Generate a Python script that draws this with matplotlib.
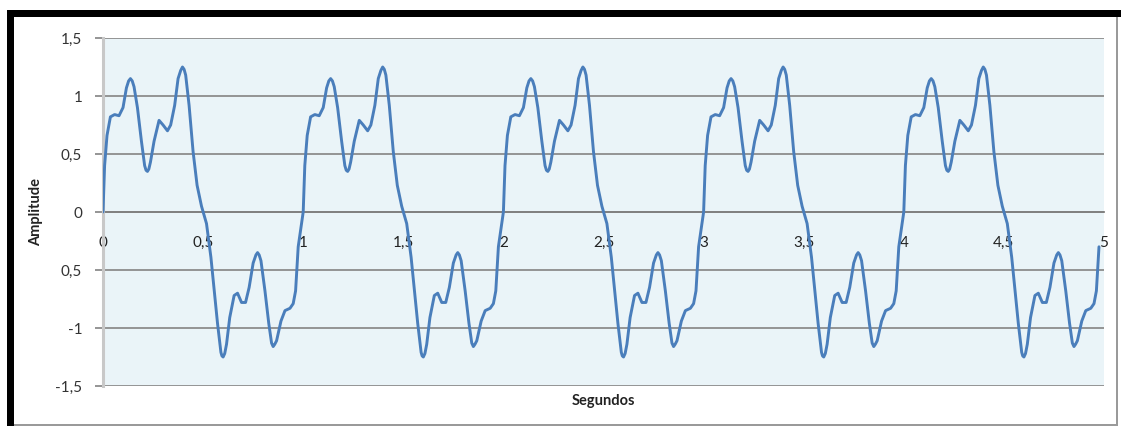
import numpy as np
import matplotlib.pyplot as plt
from matplotlib.patches import Rectangle

plt.rcParams['font.family'] = ['Lato', 'DejaVu Sans']

# one period of the signal (seconds, amplitude)
t_periodo = [0.000, 0.008, 0.020, 0.037, 0.058, 0.080, 0.100, 0.117, 0.128, 0.137,
             0.146, 0.155, 0.172, 0.192, 0.208, 0.215, 0.222, 0.229, 0.237, 0.255,
             0.280, 0.300, 0.322, 0.338, 0.358, 0.375, 0.388, 0.397, 0.405, 0.413,
             0.430, 0.450, 0.470, 0.492, 0.517, 0.539, 0.555, 0.572, 0.589, 0.594,
             0.600, 0.608, 0.617, 0.633, 0.655, 0.672, 0.692, 0.712, 0.730, 0.750,
             0.764, 0.772, 0.780, 0.789, 0.809, 0.828, 0.842, 0.850, 0.858, 0.867,
             0.889, 0.909, 0.934, 0.950, 0.962, 0.975]
amp_periodo = [0.00, 0.40, 0.66, 0.82, 0.84, 0.83, 0.90, 1.07, 1.13, 1.15,
               1.13, 1.08, 0.90, 0.61, 0.40, 0.36, 0.35, 0.37, 0.43, 0.61,
               0.79, 0.75, 0.70, 0.75, 0.92, 1.15, 1.22, 1.25, 1.23, 1.18,
               0.92, 0.52, 0.23, 0.05, -0.10, -0.39, -0.67, -0.96, -1.21, -1.24,
               -1.25, -1.22, -1.14, -0.91, -0.72, -0.70, -0.78, -0.78, -0.65, -0.44,
               -0.37, -0.35, -0.37, -0.42, -0.68, -0.96, -1.13, -1.16, -1.14, -1.11,
               -0.94, -0.85, -0.83, -0.79, -0.68, -0.30]
n_periodos = 5

y_ticks = [1.5, 1, 0.5, 0, -0.5, -1, -1.5]
y_labels = ['1,5', '1', '0,5', '0', '0,5', '-1', '-1,5']
x_ticks = [0, 0.5, 1, 1.5, 2, 2.5, 3, 3.5, 4, 4.5, 5]
x_labels = ['0', '0,5', '1', '1,5', '2', '2,5', '3', '3,5', '4', '4,5', '5']

segundos = np.concatenate([np.array(t_periodo) + k for k in range(n_periodos)])
amplitude = np.tile(amp_periodo, n_periodos)

W, H = 1121, 426
fig = plt.figure(figsize=(W / 100, H / 100), dpi=100)
fig.patch.set_facecolor('white')


def px(x0, y0, x1, y1):
    # pixel box -> figure fraction rectangle
    return (x0 / W, 1 - y1 / H), (x1 - x0) / W, (y1 - y0) / H


# chart frame
for (x0, y0, x1, y1), c in [((7, 10, 1121, 17), 'black'),
                            ((7, 10, 14, 426), 'black'),
                            ((1116, 17, 1118, 426), '#9a9a9a'),
                            ((14, 424, 1118, 426), '#9a9a9a')]:
    xy, w, h = px(x0, y0, x1, y1)
    fig.add_artist(Rectangle(xy, w, h, transform=fig.transFigure,
                             facecolor=c, edgecolor='none'))

ax = fig.add_axes([103 / W, 1 - 386 / H, (1104 - 103) / W, (386 - 38) / H])
ax.set_facecolor('#EAF4F8')

ax.plot(segundos, amplitude, color='#4A7EBB', lw=2.1,
        solid_joinstyle='round', solid_capstyle='round', zorder=3)

ax.set_xlim(0, 5)
ax.set_ylim(-1.5, 1.5)

ax.set_yticks(y_ticks)
ax.set_yticklabels(y_labels)
ax.set_xticks(x_ticks)
ax.set_xticklabels(x_labels)

ax.yaxis.grid(True, color='#8c8c8c', lw=1.3)
ax.xaxis.grid(False)
ax.set_axisbelow(True)

ax.tick_params(axis='y', length=6, width=1.3, color='#8c8c8c', pad=9,
               labelsize=11, labelcolor='#333333')
ax.tick_params(axis='x', length=0, pad=17, labelsize=11, labelcolor='#222222')

for s in ['top', 'right']:
    ax.spines[s].set_visible(False)
ax.spines['left'].set_color('#c8c8c8')
ax.spines['left'].set_linewidth(2.2)
ax.spines['bottom'].set_position(('data', 0))
ax.spines['bottom'].set_color('#7f7f7f')
ax.spines['bottom'].set_linewidth(1.3)
ax.spines['bottom'].set_zorder(2)

fig.text(36 / W, 1 - 212 / H, 'Amplitude', rotation=90, fontsize=10.5,
         fontweight='bold', color='#222222', ha='center', va='center')
fig.text(603.5 / W, 1 - 401 / H, 'Segundos', fontsize=10.5,
         fontweight='bold', color='#222222', ha='center', va='center')

fig.savefig('out.png', dpi=100)
